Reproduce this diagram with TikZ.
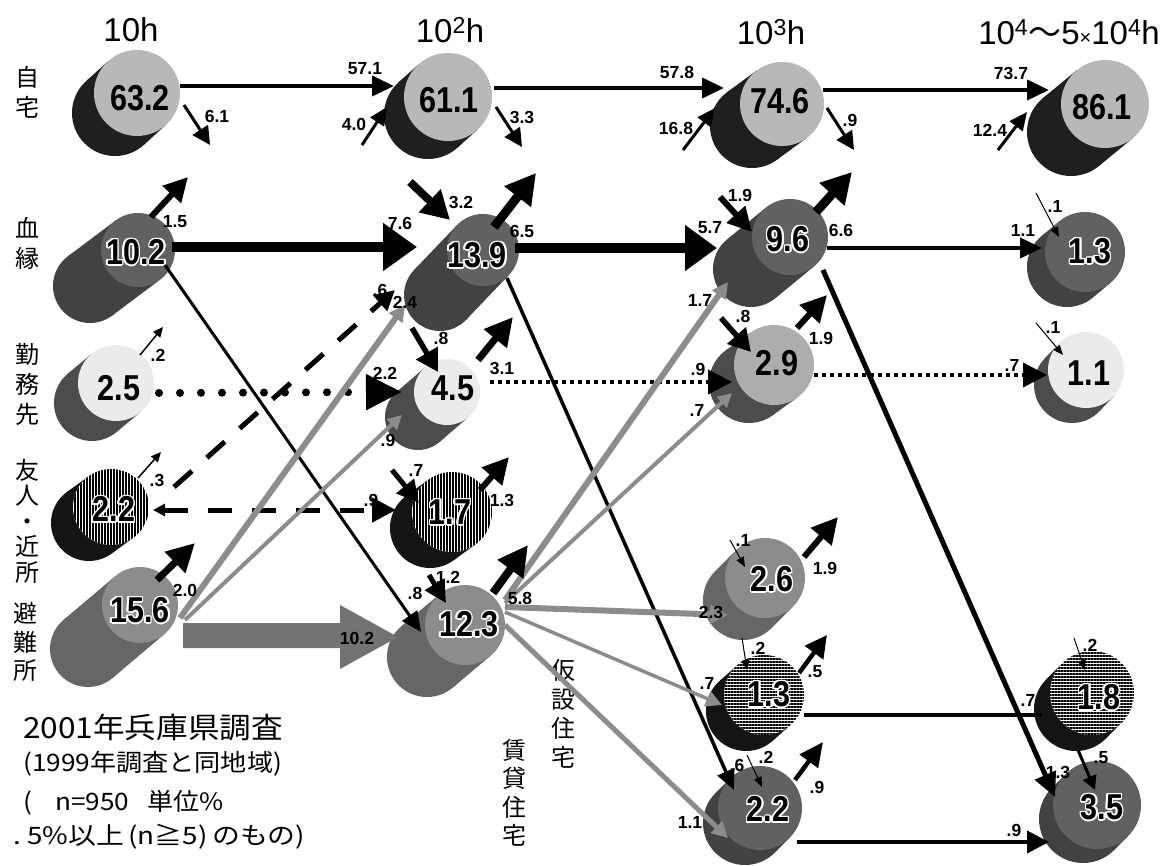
\documentclass[tikz,border=0pt]{standalone}
\usepackage{fontspec}
\usepackage{graphicx}
\setmainfont{Liberation Sans}
\newfontfamily\jpfont{Noto Sans CJK JP}
\newfontfamily\numfont{Liberation Sans}[FakeStretch=0.85]
\usepackage{contour}
\contourlength{1.5pt}
\contournumber{12}
\usetikzlibrary{calc,arrows.meta,patterns.meta}

% black figures with a white rim
\newcommand{\halo}[1]{\contour{white}{#1}}

% tilted cylinder: name, face centre, radius, offset of the back, body style, face style
\newcommand{\drawcyl}[6]{%
  \coordinate (#1) at #2;
  \coordinate (#1b) at ($(#1)+#4$);
  \fill[#5] (#1b) circle (#3);
  \fill[#5] ($(#1)!#3!90:(#1b)$) -- ($(#1b)!#3!-90:(#1)$) -- ($(#1b)!#3!90:(#1)$) -- ($(#1)!#3!-90:(#1b)$) -- cycle;
  \fill[#6] (#1) circle (#3);
}

\tikzset{
  head/.style={font=\fontsize{33}{36}\selectfont, inner sep=0pt},
  num/.style={font=\numfont\bfseries\fontsize{36}{36}\selectfont, inner sep=0pt},
  lbl/.style={font=\bfseries\fontsize{17.5}{17.5}\selectfont, inner sep=0pt},
  vlabel/.style={font=\jpfont\fontsize{24}{30}\selectfont, align=center, inner sep=0pt},
  note/.style={font=\jpfont\fontsize{24}{24}\selectfont, anchor=west, inner sep=0pt},
  flow/.style n args={3}{line width=#1, -{Triangle[length=#2, width=#3]}},
  gflow/.style n args={3}{draw=black!45, line width=#1, -{Triangle[length=#2, width=#3]}},
  dotround/.style={line width=8pt, line cap=round, dash pattern=on 0pt off 21pt, -{Triangle[length=36pt, width=34pt]}},
  dotsq/.style={line width=4pt, dash pattern=on 4pt off 4pt, -{Triangle[length=24pt, width=24pt]}},
  dashfive/.style={line width=5pt, dash pattern=on 24pt off 20pt},
  homeface/.style={fill=black!28},
  homebody/.style={fill=black!88},
  kinface/.style={fill=black!62},
  kinbody/.style={fill=black!74},
  workface/.style={fill=black!8},
  workbody/.style={fill=black!70},
  gridface/.style={fill=black!32},
  friendface/.style={fill=white, postaction={pattern={Lines[angle=90, distance=3pt, line width=1.4pt]}}},
  tempface/.style={fill=white, postaction={pattern={Lines[angle=0, distance=3pt, line width=1.4pt]}}},
  friendbody/.style={fill=black!92},
  shelterface/.style={fill=black!45},
  shelterbody/.style={fill=black!60}
}

\begin{document}
\begin{tikzpicture}[x=1pt, y=-1pt]
\fill[white] (0,0) rectangle (1176,866);
\useasboundingbox (0,0) rectangle (1176,866);

% column heads
\node[head] (h1) at (131,30) {10h};
\node[head] (h2) at (450,30) {10\textsuperscript{2}h};
\node[head] (h3) at (771,32) {10\textsuperscript{3}h};
\node[head] (h4) at (1069,32) {10\textsuperscript{4}{\jpfont 〜}5{\fontsize{20}{20}\selectfont ×}10\textsuperscript{4}h};

% row labels
\node[vlabel] (r1) at (28,92) {自\\宅};
\node[vlabel] (r2) at (28,243) {血\\縁};
\node[vlabel] (r3) at (28,384) {勤\\務\\先};
\node[vlabel, font=\jpfont\fontsize{24}{25.5}\selectfont] (r4) at (28,521) {友\\人\\・\\近\\所};
\node[vlabel, font=\jpfont\fontsize{24}{28.5}\selectfont] (r5) at (25,642) {避\\難\\所};
\node[vlabel, font=\jpfont\fontsize{24}{29}\selectfont] (r6) at (563,714) {仮\\設\\住\\宅};
\node[vlabel, font=\jpfont\fontsize{24}{28.5}\selectfont] (r7) at (514,793) {賃\\貸\\住\\宅};

% cylinders
\drawcyl{c11}{(137,93)}{43pt}{(-22,20)}{homebody}{homeface}
\drawcyl{c12}{(448,97)}{44pt}{(-20,18)}{homebody}{homeface}
\drawcyl{c13}{(782,104)}{42pt}{(-30,22)}{homebody}{homeface}
\drawcyl{c14}{(1105,104)}{44pt}{(-34,28)}{homebody}{homeface}
\drawcyl{c21}{(138,250)}{37pt}{(-48,36)}{kinbody}{kinface}
\drawcyl{c22}{(483,250)}{36pt}{(-43,45)}{kinbody}{kinface}
\drawcyl{c23}{(790,237)}{38pt}{(-39,32)}{kinbody}{kinface}
\drawcyl{c24}{(1085,252)}{40pt}{(-18,15)}{kinbody}{kinface}
\drawcyl{c31}{(116,383)}{38pt}{(-24,20)}{workbody}{workface}
\drawcyl{c32}{(447,392)}{33pt}{(-29,25)}{workbody}{workface}
\drawcyl{c33}{(774,365)}{40pt}{(-25,18)}{workbody}{gridface}
\drawcyl{c34}{(1086,370)}{38pt}{(-14,15)}{workbody}{workface}
\drawcyl{c41}{(111,507)}{38pt}{(-22,16)}{friendbody}{friendface}
\drawcyl{c42}{(452,512)}{40pt}{(-22,16)}{friendbody}{friendface}
\drawcyl{c51}{(140,605)}{38pt}{(-52,44)}{shelterbody}{shelterface}
\drawcyl{c52}{(465,625)}{40pt}{(-38,32)}{shelterbody}{shelterface}
\drawcyl{c53}{(765,578)}{40pt}{(-22,22)}{shelterbody}{shelterface}
\drawcyl{c63}{(764,695)}{40pt}{(-18,16)}{friendbody}{tempface}
\drawcyl{c64}{(1092,693)}{42pt}{(-16,16)}{friendbody}{tempface}
\drawcyl{c73}{(760,808)}{42pt}{(-15,15)}{kinbody}{kinface}
\drawcyl{c74}{(1097,805)}{44pt}{(-14,14)}{kinbody}{kinface}

% numbers on the cylinders
\node[num] (n11) at (140,98) {63.2};
\node[num] (n12) at (449,100) {61.1};
\node[num] (n13) at (780,101) {74.6};
\node[num] (n14) at (1102,107) {86.1};
\node[num] (n21) at (136,253) {\halo{10.2}};
\node[num] (n22) at (477,256) {\halo{13.9}};
\node[num] (n23) at (788,240) {\halo{9.6}};
\node[num] (n24) at (1090,252) {\halo{1.3}};
\node[num] (n31) at (119,388) {2.5};
\node[num] (n32) at (453,388) {4.5};
\node[num] (n33) at (777,363) {2.9};
\node[num] (n34) at (1089,373) {1.1};
\node[num] (n41) at (114,510) {\halo{2.2}};
\node[num] (n42) at (450,513) {\halo{1.7}};
\node[num] (n51) at (140,611) {\halo{15.6}};
\node[num] (n52) at (469,625) {\halo{12.3}};
\node[num] (n53) at (772,580) {\halo{2.6}};
\node[num] (n63) at (769,695) {\halo{1.3}};
\node[num] (n64) at (1099,698) {\halo{1.8}};
\node[num] (n73) at (768,810) {\halo{2.2}};
\node[num] (n74) at (1102,808) {\halo{3.5}};

% flows along the rows
\draw[flow={4pt}{22pt}{20pt}] ([shift={(43,-7)}]c11) -- ([shift={(-54,-11)}]c12);
\node[lbl] (l1) at (365,69) {57.1};
\draw[flow={4pt}{22pt}{20pt}] ([shift={(46,-9)}]c12) -- ([shift={(-58,-16)}]c13);
\node[lbl] (l2) at (677,72) {57.8};
\draw[flow={4pt}{22pt}{20pt}] ([shift={(41,-14)}]c13) -- ([shift={(-56,-14)}]c14);
\node[lbl] (l3) at (1011,73) {73.7};
\draw[flow={10pt}{34pt}{46pt}] ([shift={(34,-3)}]c21) -- ([shift={(-66,-3)}]c22);
\node[lbl] (l4) at (400,223) {7.6};
\draw[flow={10pt}{32pt}{44pt}] ([shift={(32,-2)}]c22) -- ([shift={(-73,11)}]c23);
\node[lbl] (l5) at (710,228) {5.7};
\draw[flow={4pt}{22pt}{20pt}] ([shift={(37,11)}]c23) -- ([shift={(-43,-4)}]c24);
\node[lbl] (l6) at (1023,230) {1.1};
\draw[dotround] ([shift={(43,10)}]c31) -- ([shift={(-45,0)}]c32);
\node[lbl] (l7) at (385,373) {2.2};
\draw[dotsq] ([shift={(43,-10)}]c32) -- ([shift={(-42,17)}]c33);
\node[lbl] (l8) at (698,369) {.9};
\draw[dotsq] ([shift={(40,10)}]c33) -- ([shift={(-39,5)}]c34);
\node[lbl] (l9) at (1012,365) {.7};
\draw[dashfive, {Triangle[length=12pt, width=12pt]}-{Triangle[length=24pt, width=24pt]}] ([shift={(42,3)}]c41) -- ([shift={(-56,-2)}]c42);
\node[lbl] (l10) at (371,500) {.9};
\draw[dashfive, -{Triangle[length=20pt, width=20pt]}] ([shift={(63,-20)}]c41) -- ([shift={(-88,40)}]c22);
\node[lbl] (l11) at (380,290) {.6};
\fill[black!55] ([shift={(43,18)}]c51) -- ++(157,0) -- ++(0,-18) -- ++(58,32) -- ++(-58,32) -- ++(0,-21) -- ++(-157,0) -- cycle;
\node[lbl] (l12) at (357,638) {10.2};
\draw[line width=4pt] ([shift={(40,20)}]c63) -- ([shift={(-50,22)}]c64);
\node[lbl] (l13) at (1028,700) {.7};
\draw[flow={4pt}{22pt}{22pt}] ([shift={(37,34)}]c73) -- ([shift={(-48,37)}]c74);
\node[lbl] (l14) at (1014,830) {.9};

% black diagonals
\draw[flow={3pt}{20pt}{18pt}] ([shift={(27,15)}]c21) -- ([shift={(-44,7)}]c52);
\node[lbl] (l15) at (415,593) {.8};
\draw[flow={3.5pt}{20pt}{18pt}] ([shift={(24,28)}]c22) -- ([shift={(-26,-18)}]c73);
\node[lbl] (l16) at (737,765) {.6};
\draw[flow={5pt}{24pt}{22pt}] ([shift={(33,33)}]c23) -- ([shift={(-42,-8)}]c74);
\node[lbl] (l17) at (1058,772) {1.3};
\draw[flow={3pt}{14pt}{14pt}] ([shift={(-14,57)}]c64) -- ([shift={(-2,-15)}]c74);
\node[lbl] (l18) at (1101,758) {.5};

% grey diagonals
\draw[gflow={6pt}{16pt}{16pt}] ([shift={(40,13)}]c51) -- ([shift={(-78,55)}]c22);
\node[lbl] (l19) at (405,302) {2.4};
\draw[gflow={4pt}{14pt}{14pt}] ([shift={(45,15)}]c51) -- ([shift={(-45,23)}]c32);
\node[lbl] (l20) at (388,440) {.9};
\draw[gflow={6pt}{16pt}{16pt}] ([shift={(40,-25)}]c52) -- ([shift={(-62,45)}]c23);
\node[lbl] (l21) at (700,300) {1.7};
\draw[gflow={4pt}{14pt}{14pt}] ([shift={(40,-22)}]c52) -- ([shift={(-42,28)}]c33);
\node[lbl] (l22) at (697,410) {.7};
\draw[gflow={6pt}{18pt}{18pt}] ([shift={(40,-18)}]c52) -- ([shift={(-37,37)}]c53);
\node[lbl] (l23) at (711,612) {2.3};
\draw[gflow={3.5pt}{16pt}{16pt}] ([shift={(40,-13)}]c52) -- ([shift={(-42,10)}]c63);
\node[lbl] (l24) at (707,683) {.7};
\draw[gflow={5pt}{16pt}{16pt}] ([shift={(40,0)}]c52) -- ([shift={(-32,30)}]c73);
\node[lbl] (l25) at (690,822) {1.1};

% outflows
\draw[flow={6pt}{24pt}{24pt}] ([shift={(13,-33)}]c21) -- ([shift={(50,-73)}]c21);
\node[lbl] (l26) at (175,222) {1.5};
\draw[flow={9pt}{30pt}{32pt}] ([shift={(11,-23)}]c22) -- ([shift={(53,-77)}]c22);
\node[lbl] (l27) at (522,231) {6.5};
\draw[flow={9pt}{30pt}{32pt}] ([shift={(26,-25)}]c23) -- ([shift={(62,-65)}]c23);
\node[lbl] (l28) at (841,230) {6.6};
\draw[flow={1.5pt}{10pt}{9pt}] ([shift={(24,-28)}]c31) -- ([shift={(47,-56)}]c31);
\node[lbl] (l29) at (158,355) {.2};
\draw[flow={7pt}{28pt}{28pt}] ([shift={(31,-32)}]c32) -- ([shift={(66,-75)}]c32);
\node[lbl] (l30) at (502,368) {3.1};
\draw[flow={6pt}{26pt}{26pt}] ([shift={(23,-37)}]c33) -- ([shift={(53,-70)}]c33);
\node[lbl] (l31) at (821,338) {1.9};
\draw[flow={1.5pt}{10pt}{9pt}] ([shift={(27,-29)}]c41) -- ([shift={(50,-55)}]c41);
\node[lbl] (l32) at (157,480) {.3};
\draw[flow={6pt}{26pt}{26pt}] ([shift={(28,-22)}]c42) -- ([shift={(57,-55)}]c42);
\node[lbl] (l33) at (502,500) {1.3};
\draw[flow={7pt}{28pt}{28pt}] ([shift={(17,-25)}]c51) -- ([shift={(55,-62)}]c51);
\node[lbl] (l34) at (185,590) {2.0};
\draw[flow={8pt}{30pt}{30pt}] ([shift={(28,-32)}]c52) -- ([shift={(63,-80)}]c52);
\node[lbl] (l35) at (520,598) {5.8};
\draw[flow={6pt}{26pt}{26pt}] ([shift={(39,-21)}]c53) -- ([shift={(73,-61)}]c53);
\node[lbl] (l36) at (825,568) {1.9};
\draw[flow={4.5pt}{22pt}{22pt}] ([shift={(35,-22)}]c63) -- ([shift={(63,-60)}]c63);
\node[lbl] (l37) at (815,672) {.5};
\draw[flow={4.5pt}{24pt}{22pt}] ([shift={(35,-28)}]c73) -- ([shift={(63,-66)}]c73);
\node[lbl] (l38) at (817,787) {.9};
\draw[flow={3pt}{18pt}{18pt}] ([shift={(47,12)}]c11) -- ([shift={(73,52)}]c11);
\node[lbl] (l39) at (217,116) {6.1};
\draw[flow={3pt}{18pt}{18pt}] ([shift={(48,10)}]c12) -- ([shift={(74,50)}]c12);
\node[lbl] (l40) at (522,117) {3.3};
\draw[flow={3pt}{18pt}{18pt}] ([shift={(45,4)}]c13) -- ([shift={(72,46)}]c13);
\node[lbl] (l41) at (850,120) {.9};

% inflows
\draw[flow={3pt}{18pt}{16pt}] ([shift={(-86,48)}]c12) -- ([shift={(-61,10)}]c12);
\node[lbl] (l42) at (354,124) {4.0};
\draw[flow={3pt}{18pt}{16pt}] ([shift={(-99,46)}]c13) -- ([shift={(-67,4)}]c13);
\node[lbl] (l43) at (676,128) {16.8};
\draw[flow={3pt}{18pt}{16pt}] ([shift={(-107,46)}]c14) -- ([shift={(-78,8)}]c14);
\node[lbl] (l44) at (990,130) {12.4};
\draw[flow={8pt}{28pt}{30pt}] ([shift={(-73,-68)}]c22) -- ([shift={(-33,-30)}]c22);
\node[lbl] (l45) at (461,202) {3.2};
\draw[flow={6pt}{24pt}{24pt}] ([shift={(-70,-40)}]c23) -- ([shift={(-38,-5)}]c23);
\node[lbl] (l46) at (740,195) {1.9};
\draw[flow={5.5pt}{22pt}{24pt}] ([shift={(-35,-64)}]c32) -- ([shift={(-9,-20)}]c32);
\node[lbl] (l47) at (441,338) {.8};
\draw[flow={5pt}{22pt}{22pt}] ([shift={(-60,-42)}]c42) -- ([shift={(-33,-9)}]c42);
\node[lbl] (l48) at (416,470) {.7};
\draw[flow={5pt}{22pt}{22pt}] ([shift={(-36,-50)}]c52) -- ([shift={(-19,-22)}]c52);
\node[lbl] (l49) at (448,577) {1.2};
\draw[flow={5.5pt}{22pt}{24pt}] ([shift={(-53,-47)}]c33) -- ([shift={(-23,-13)}]c33);
\node[lbl] (l50) at (743,316) {.8};
\draw[flow={1pt}{10pt}{8pt}] ([shift={(-49,-59)}]c24) -- ([shift={(-26,-15)}]c24);
\node[lbl] (l51) at (1055,206) {.1};
\draw[flow={1pt}{10pt}{8pt}] ([shift={(-50,-47)}]c34) -- ([shift={(-23,-15)}]c34);
\node[lbl] (l52) at (1053,327) {.1};
\draw[flow={1pt}{10pt}{8pt}] ([shift={(-35,-38)}]c53) -- ([shift={(-20,-11)}]c53);
\node[lbl] (l53) at (743,540) {.1};
\draw[flow={1pt}{10pt}{8pt}] ([shift={(-22,-57)}]c63) -- ([shift={(-17,-25)}]c63);
\node[lbl] (l54) at (758,648) {.2};
\draw[flow={1pt}{10pt}{8pt}] ([shift={(-13,-53)}]c73) -- ([shift={(2,-21)}]c73);
\node[lbl] (l55) at (766,757) {.2};
\draw[flow={1pt}{10pt}{8pt}] ([shift={(-18,-55)}]c64) -- ([shift={(-7,-23)}]c64);
\node[lbl] (l56) at (1090,645) {.2};

% survey notes
\node[note, font=\jpfont\fontsize{29}{29}\selectfont] (t1) at (23,728) {\scalebox{1.09}[1]{2001年兵庫県調査}};
\node[note] (t2) at (23,764) {\scalebox{1.09}[1]{(1999年調査と同地域)}};
\node[note] (t3) at (23,803) {\scalebox{1.09}[1]{(\ \ \ \ n=950\ \ \ 単位\%}};
\node[note] (t4) at (13,837) {\scalebox{1.16}[1]{.\ 5\%以上\,(n≧5)\,のもの)}};
\end{tikzpicture}
\end{document}
